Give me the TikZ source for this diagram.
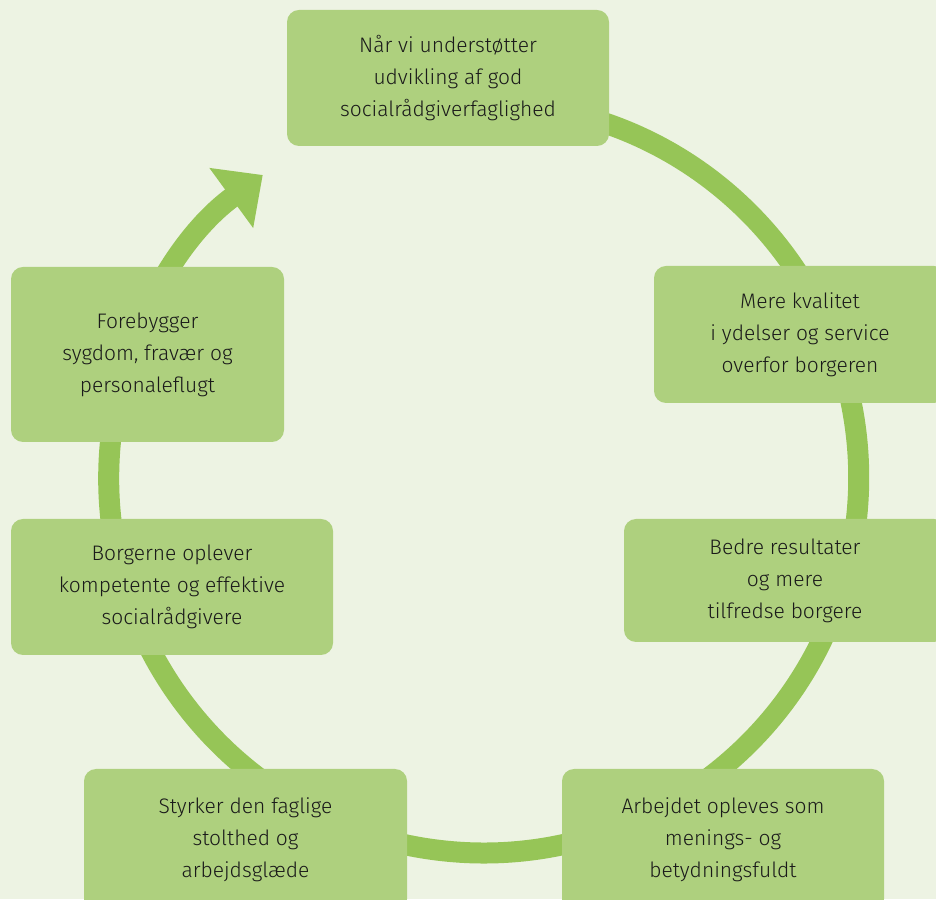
\documentclass[tikz,border=0pt]{standalone}
\usepackage{fontspec}
\setmainfont{Fira Sans Light}
\usetikzlibrary{arrows.meta}
\definecolor{bggreen}{RGB}{237,243,227}
\definecolor{boxgreen}{RGB}{174,208,126}
\definecolor{ringgreen}{RGB}{150,197,87}
\definecolor{txtgray}{RGB}{26,26,26}

\begin{document}
\begin{tikzpicture}[x=1pt,y=1pt,
        box/.style={fill=boxgreen, rounded corners=12pt, align=center, text=txtgray,
            font=\fontsize{21}{32}\selectfont, inner sep=0pt},
        ring/.style={draw=ringgreen, line width=21pt, -{Triangle[width=72pt,length=39pt]}}]
    \fill[bggreen] (0,0) rectangle (936,899);
    \useasboundingbox (0,0) rectangle (936,899);
    \coordinate (mid) at (483.7,421);
    % the ring, clockwise, ending in the arrow
    \draw[ring] (mid) ++(85:375) arc[start angle=85, end angle=-233.9, radius=375];
    \node[box, minimum width=322pt, minimum height=136pt] (udvikling) at (448,821)
        {Når vi understøtter\\udvikling af god\\socialrådgiverfaglighed};
    \node[box, minimum width=292pt, minimum height=137pt] (kvalitet) at (800,564.5)
        {Mere kvalitet\\i ydelser og service\\overfor borgeren};
    \node[box, minimum width=322pt, minimum height=123pt] (resultater) at (785,318.5)
        {Bedre resultater\\og mere\\tilfredse borgere};
    \node[box, minimum width=322pt, minimum height=142pt] (mening) at (723,59)
        {Arbejdet opleves som\\menings- og\\betydningsfuldt};
    \node[box, minimum width=323pt, minimum height=142pt] (stolthed) at (245.5,59)
        {Styrker den faglige\\stolthed og\\arbejdsglæde};
    \node[box, minimum width=322pt, minimum height=136pt] (borgerne) at (172,312)
        {Borgerne oplever\\kompetente og effektive\\socialrådgivere};
    \node[box, minimum width=273pt, minimum height=175pt] (forebygger) at (147.5,544.5)
        {Forebygger\\sygdom, fravær og\\personaleflugt};
\end{tikzpicture}
\end{document}
